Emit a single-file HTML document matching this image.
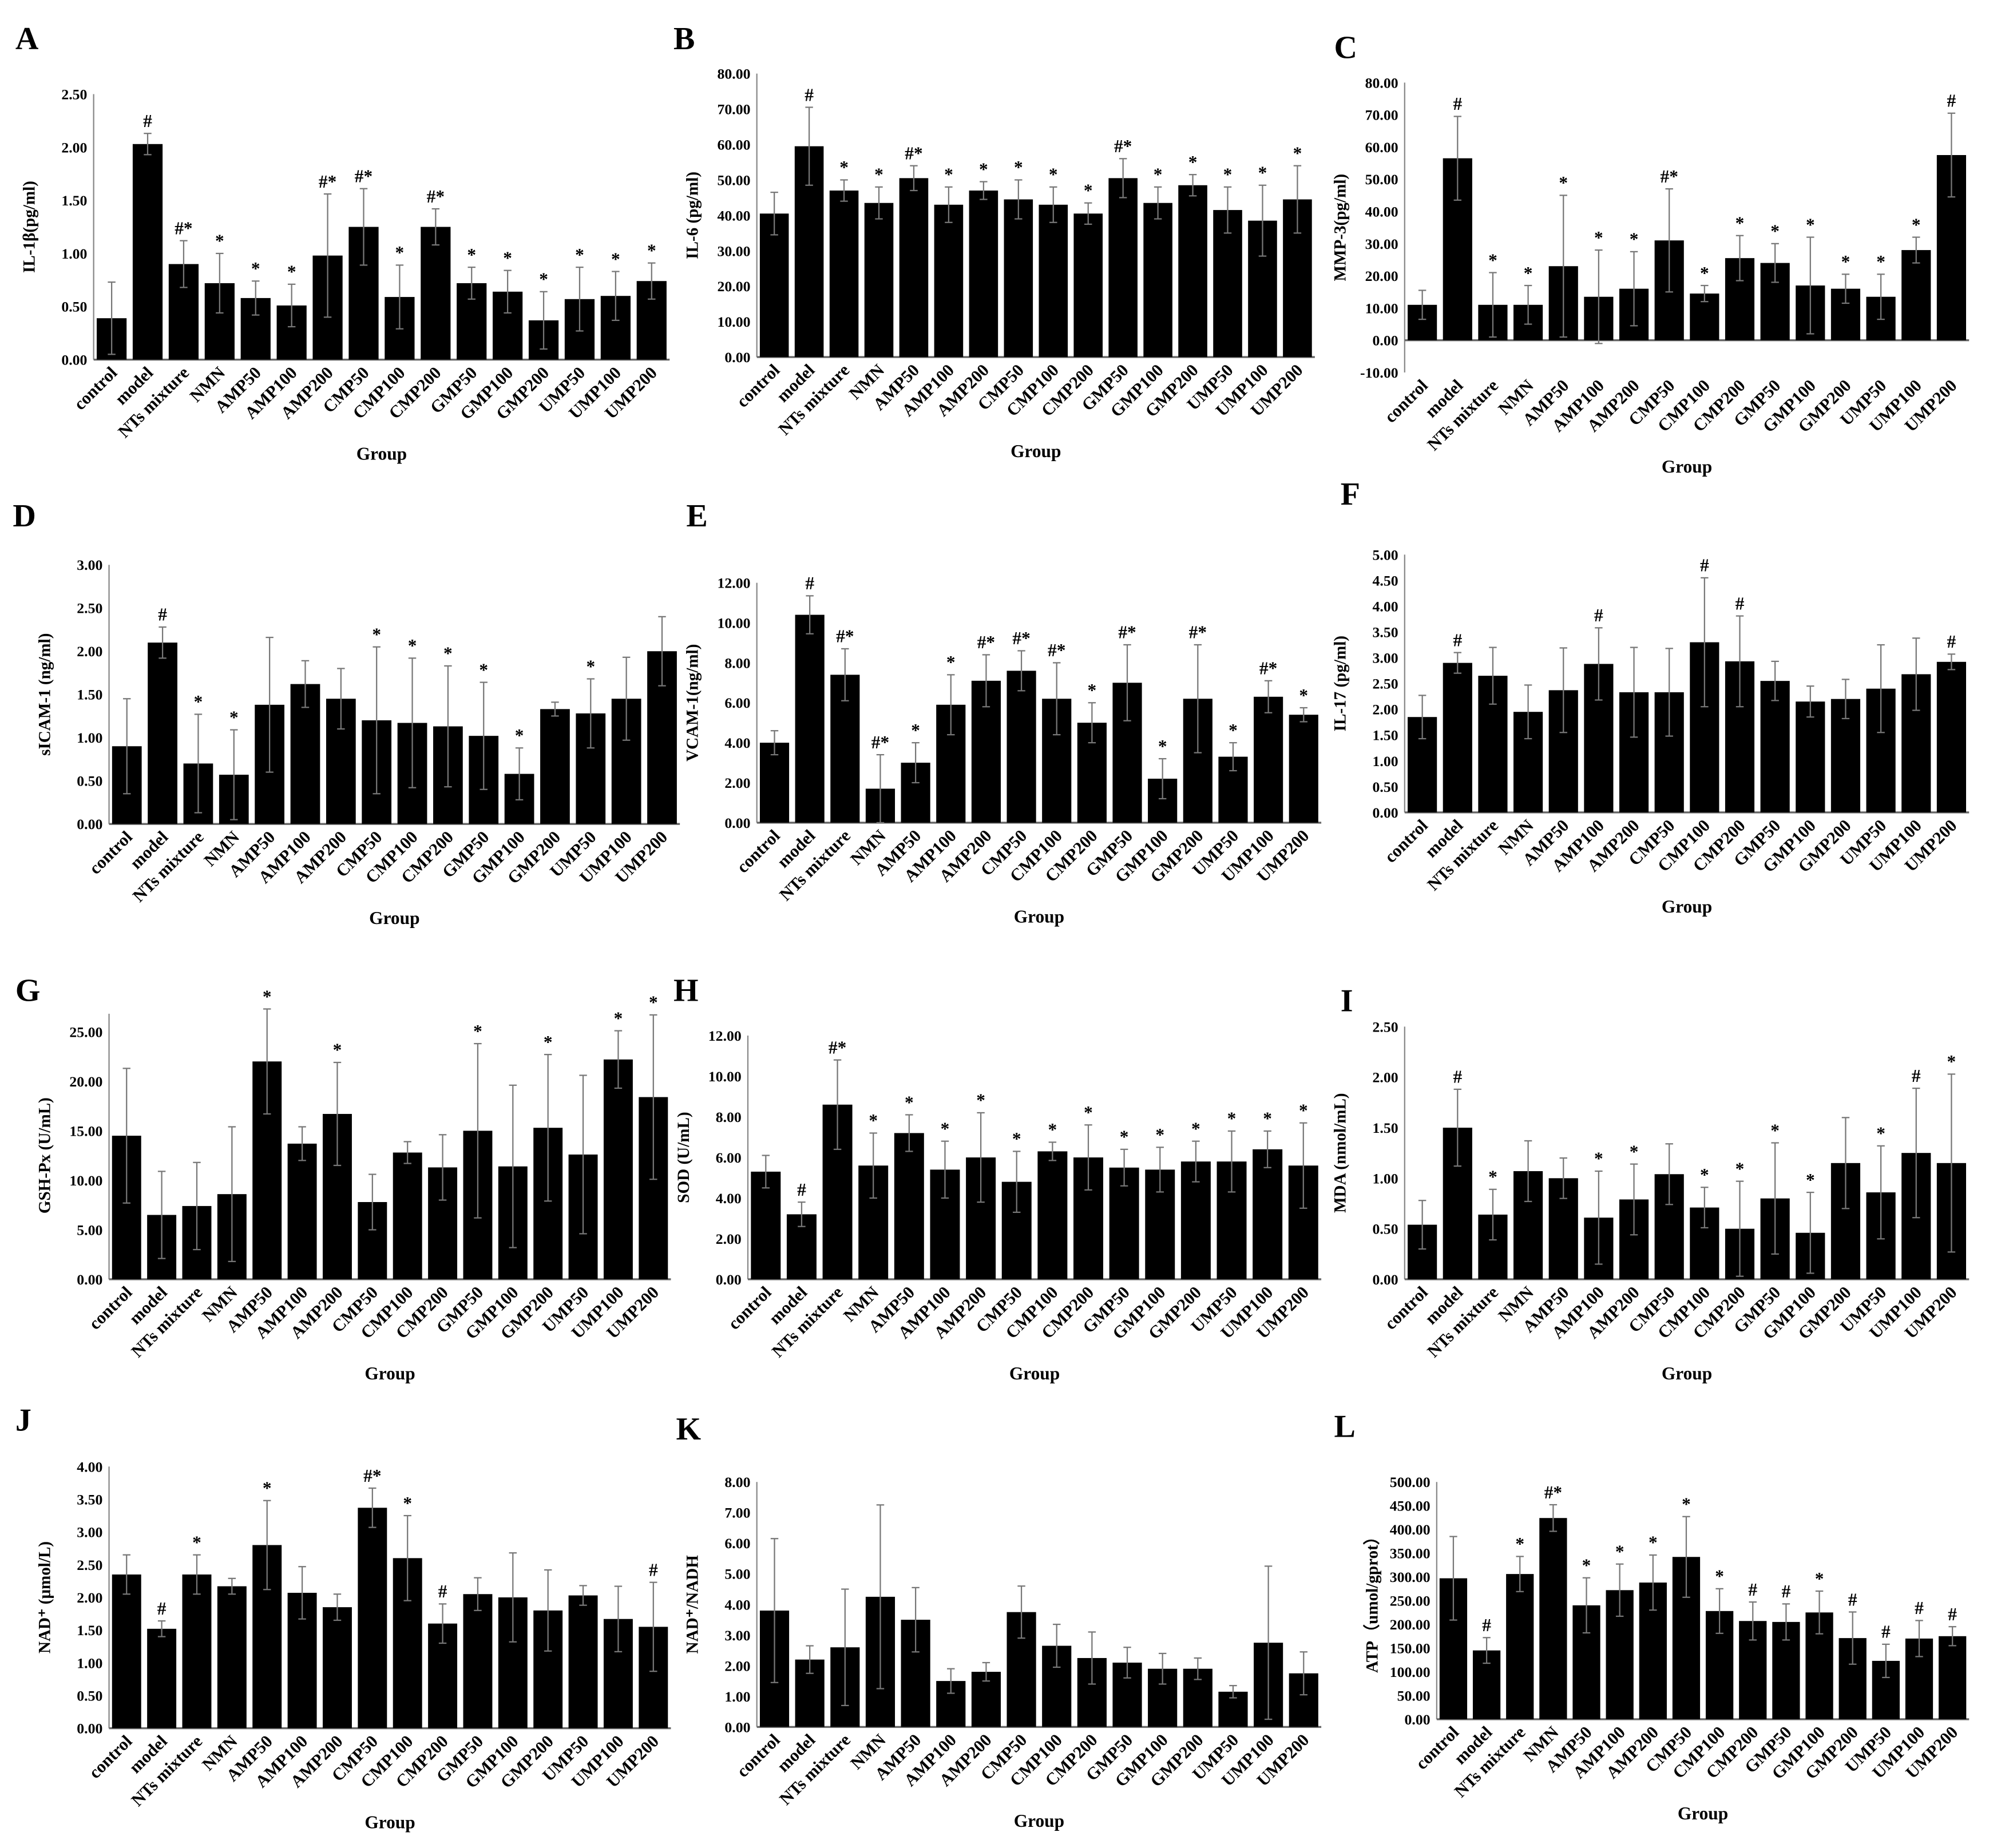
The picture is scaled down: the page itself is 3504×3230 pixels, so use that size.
<!DOCTYPE html>
<html><head><meta charset="utf-8"><style>
html,body{margin:0;padding:0;background:#fff;}
svg{display:block;}
text{font-family:"Liberation Serif",serif;font-weight:bold;fill:#000;}
</style></head><body>
<svg id="fig" width="3504" height="3230" viewBox="0 0 1563 1440" xmlns="http://www.w3.org/2000/svg"></svg>
<script>
const categories=["control","model","NTs mixture","NMN","AMP50","AMP100","AMP200","CMP50","CMP100","CMP200","GMP50","GMP100","GMP200","UMP50","UMP100","UMP200"];
const valsA=[.39,2.03,.9,.72,.58,.51,.98,1.25,.59,1.25,.72,.64,.37,.57,.6,.74];
const errA=[.34,.1,.22,.28,.16,.2,.58,.36,.3,.17,.15,.2,.27,.3,.23,.17];
const sigA=["","#","#*","*","*","*","#*","#*","*","#*","*","*","*","*","*","*"];
const valsB=[40.5,59.5,47,43.5,50.5,43,47,44.5,43,40.5,50.5,43.5,48.5,41.5,38.5,44.5];
const errB=[6,11,3,4.5,3.5,5,2.5,5.5,5,3,5.5,4.5,3,6.5,10,9.5];
const sigB=["","#","*","*","#*","*","*","*","*","*","#*","*","*","*","*","*"];
const valsC=[11,56.5,11,11,23,13.5,16,31,14.5,25.5,24,17,16,13.5,28,57.5];
const errC=[4.5,13,10,6,22,14.5,11.5,16,2.5,7,6,15,4.5,7,4,13];
const sigC=["","#","*","*","*","*","*","#*","*","*","*","*","*","*","*","#"];
const valsD=[.9,2.1,.7,.57,1.38,1.62,1.45,1.2,1.17,1.13,1.02,.58,1.33,1.28,1.45,2.0];
const errD=[.55,.18,.57,.52,.78,.27,.35,.85,.75,.7,.62,.3,.08,.4,.48,.4];
const sigD=["","#","*","*","","","","*","*","*","*","*","","*","",""];
const valsE=[4.0,10.4,7.4,1.7,3.0,5.9,7.1,7.6,6.2,5.0,7.0,2.2,6.2,3.3,6.3,5.4];
const errE=[.6,.95,1.3,1.7,1.0,1.5,1.3,1.0,1.8,1.0,1.9,1.0,2.7,.7,.8,.35];
const sigE=["","#","#*","#*","*","*","#*","#*","#*","*","#*","*","#*","*","#*","*"];
const valsF=[1.85,2.9,2.65,1.95,2.37,2.88,2.33,2.33,3.3,2.93,2.55,2.15,2.2,2.4,2.68,2.92];
const errF=[.42,.2,.55,.52,.82,.7,.87,.85,1.25,.88,.38,.3,.38,.85,.7,.15];
const sigF=["","#","","","","#","","","#","#","","","","","","#"];
const valsG=[14.5,6.5,7.4,8.6,22,13.7,16.7,7.8,12.8,11.3,15,11.4,15.3,12.6,22.2,18.4];
const errG=[6.8,4.4,4.4,6.8,5.3,1.7,5.2,2.8,1.1,3.3,8.8,8.2,7.4,8,2.9,8.3];
const sigG=["","","","","*","","*","","","","*","","*","","*","*"];
const valsH=[5.3,3.2,8.6,5.6,7.2,5.4,6.0,4.8,6.3,6.0,5.5,5.4,5.8,5.8,6.4,5.6];
const errH=[.8,.6,2.2,1.6,.9,1.4,2.2,1.5,.45,1.6,.9,1.1,1.0,1.5,.9,2.1];
const sigH=["","#","#*","*","*","*","*","*","*","*","*","*","*","*","*","*"];
const valsI=[.54,1.5,.64,1.07,1.0,.61,.79,1.04,.71,.5,.8,.46,1.15,.86,1.25,1.15];
const errI=[.24,.38,.25,.3,.2,.46,.35,.3,.2,.47,.55,.4,.45,.46,.64,.88];
const sigI=["","#","*","","","*","*","","*","*","*","*","","*","#","*"];
const valsJ=[2.35,1.52,2.35,2.17,2.8,2.07,1.85,3.37,2.6,1.6,2.05,2.0,1.8,2.03,1.67,1.55];
const errJ=[.3,.12,.3,.12,.68,.4,.2,.3,.65,.3,.25,.68,.62,.15,.5,.68];
const sigJ=["","#","*","","*","","","#*","*","#","","","","","","#"];
const valsK=[3.8,2.2,2.6,4.25,3.5,1.5,1.8,3.75,2.65,2.25,2.1,1.9,1.9,1.15,2.75,1.75];
const errK=[2.35,.45,1.9,3.0,1.05,.4,.3,.85,.7,.85,.5,.5,.35,.2,2.5,.7];
const sigK=["","","","","","","","","","","","","","","",""];
const valsL=[297,145,306,424,240,272,288,342,228,207,205,225,171,123,170,175];
const errL=[88,27,37,28,58,55,58,85,47,40,38,45,55,35,38,20];
const sigL=["","#","*","#*","*","*","*","*","*","#","#","*","#","#","#","#"];

const panels=[
 {id:"A",lx:12,ly:38,x0:73,x1:522,yTop:73,yBot:280,min:0,max:2.5,step:.5,dec:2,ylab:"IL-1β(pg/ml)",v:valsA,e:errA,s:sigA},
 {id:"B",lx:525,ly:38,x0:590,x1:1025,yTop:57,yBot:278,min:0,max:80,step:10,dec:2,ylab:"IL-6 (pg/ml)",v:valsB,e:errB,s:sigB},
 {id:"C",lx:1040,ly:45,x0:1095,x1:1535,yTop:64,yBot:290,min:-10,max:80,step:10,dec:2,ylab:"MMP-3(pg/ml)",v:valsC,e:errC,s:sigC},
 {id:"D",lx:10,ly:410,x0:85,x1:530,yTop:440,yBot:642,min:0,max:3,step:.5,dec:2,ylab:"sICAM-1 (ng/ml)",v:valsD,e:errD,s:sigD},
 {id:"E",lx:535,ly:410,x0:590,x1:1030,yTop:454,yBot:641,min:0,max:12,step:2,dec:2,ylab:"VCAM-1(ng/ml)",v:valsE,e:errE,s:sigE},
 {id:"F",lx:1045,ly:393,x0:1095,x1:1535,yTop:432,yBot:633,min:0,max:5,step:.5,dec:2,ylab:"IL-17 (pg/ml)",v:valsF,e:errF,s:sigF},
 {id:"G",lx:12,ly:780,x0:85,x1:523,yTop:804,yBot:997,min:0,max:25,step:5,dec:2,ylab:"GSH-Px (U/mL)",v:valsG,e:errG,s:sigG,ext:14},
 {id:"H",lx:525,ly:780,x0:583,x1:1030,yTop:807,yBot:997,min:0,max:12,step:2,dec:2,ylab:"SOD (U/mL)",v:valsH,e:errH,s:sigH},
 {id:"I",lx:1045,ly:788,x0:1095,x1:1535,yTop:800,yBot:997,min:0,max:2.5,step:.5,dec:2,ylab:"MDA (nmol/mL)",v:valsI,e:errI,s:sigI},
 {id:"J",lx:12,ly:1115,x0:85,x1:523,yTop:1143,yBot:1347,min:0,max:4,step:.5,dec:2,ylab:"NAD⁺ (μmol/L)",v:valsJ,e:errJ,s:sigJ},
 {id:"K",lx:527,ly:1122,x0:590,x1:1030,yTop:1155,yBot:1346,min:0,max:8,step:1,dec:2,ylab:"NAD⁺/NADH",v:valsK,e:errK,s:sigK},
 {id:"L",lx:1040,ly:1120,x0:1120,x1:1535,yTop:1155,yBot:1340,min:0,max:500,step:50,dec:2,ylab:"ATP（umol/gprot）",v:valsL,e:errL,s:sigL}
];
const NS="http://www.w3.org/2000/svg";
const svg=document.getElementById("fig");
function mk(tag,attrs,parent,txt){const el=document.createElementNS(NS,tag);for(const k in attrs)el.setAttribute(k,attrs[k]);if(txt!==undefined)el.textContent=txt;parent.appendChild(el);return el;}
panels.forEach(p=>{
 const g=mk("g",{},svg);
 
 
 const yS=v=>p.yBot-(v-p.min)/(p.max-p.min)*(p.yBot-p.yTop);
 const letter=mk("text",{x:p.lx,y:p.ly,"font-size":25,"font-weight":"normal"},g,p.id);
 
 
 const y0=yS(Math.max(0,p.min));
 const yax=mk("line",{x1:p.x0,x2:p.x0,y1:p.yTop-(p.ext||0),y2:yS(p.min),stroke:"#888","stroke-width":1},g);
 
 
 const xax=mk("line",{x1:p.x0,x2:p.x1,y1:y0,y2:y0,stroke:"#666","stroke-width":1.5},g);
 
 
 const nT=Math.round((p.max-p.min)/p.step);
 for(let i=0;i<=nT;i++){const v=p.min+i*p.step;
  const t=mk("text",{x:p.x0-5,y:yS(v)+4,"font-size":11.5,"text-anchor":"end"},g,v.toFixed(p.dec));
  
  }
 const yl=mk("text",{transform:`translate(${p.x0-46},${(p.yTop+p.yBot)/2}) rotate(-90)`,"font-size":13,"text-anchor":"middle"},g,p.ylab);
 
 
 const slot=(p.x1-p.x0)/categories.length, bw=slot*0.83;
 categories.forEach((c,i)=>{
  const cx=p.x0+slot*(i+0.5);
  const yv=yS(p.v[i]);
  const r=mk("rect",{x:cx-bw/2,y:Math.min(yv,y0),width:bw,height:Math.abs(y0-yv),fill:"#000"},g);
  
  
  const eTop=yS(p.v[i]+p.e[i]), eBot=yS(p.v[i]-p.e[i]);
  mk("line",{x1:cx,x2:cx,y1:eTop,y2:eBot,stroke:"#777","stroke-width":1},g);
  mk("line",{x1:cx-3,x2:cx+3,y1:eTop,y2:eTop,stroke:"#777","stroke-width":1},g);
  mk("line",{x1:cx-3,x2:cx+3,y1:eBot,y2:eBot,stroke:"#777","stroke-width":1},g);
  if(p.s[i]){const st=mk("text",{x:cx,y:eTop-5,"font-size":14,"text-anchor":"middle"},g,p.s[i]);
   
   }
  const ly=yS(p.min)+11;
  const cl=mk("text",{transform:`translate(${cx+5},${ly}) rotate(-45)`,"font-size":13.5,"text-anchor":"end"},g,c);
  
  
 });
 const gx=mk("text",{x:(p.x0+p.x1)/2,y:yS(p.min)+78,"font-size":14,"text-anchor":"middle"},g,"Group");
 
 
});
</script>
</body></html>
